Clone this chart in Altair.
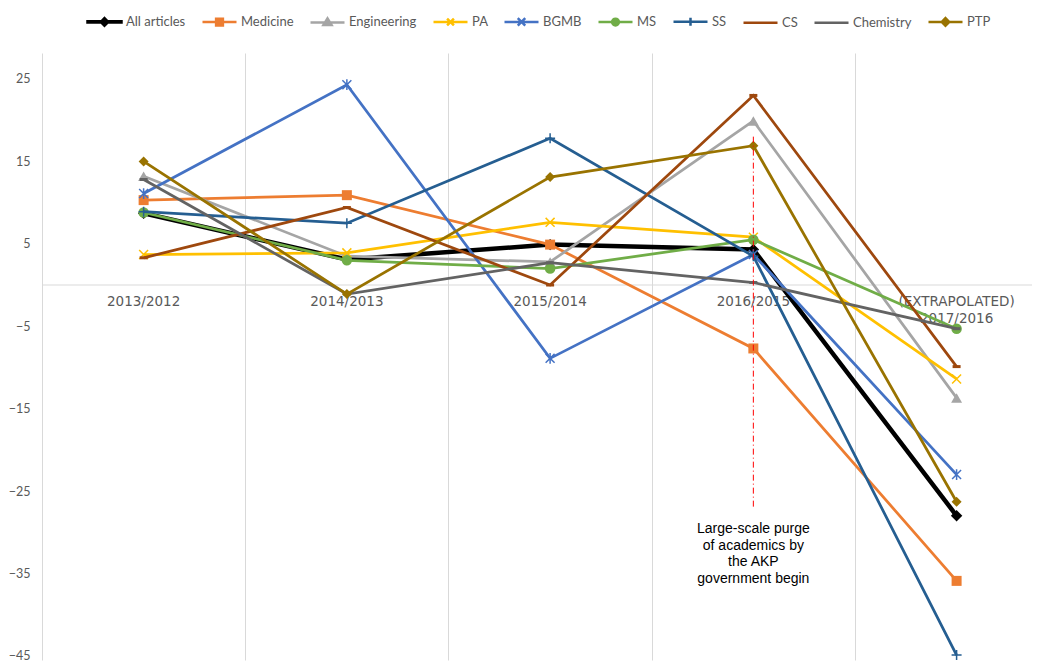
import altair as alt
import pandas as pd

# ---------------- data ----------------
categories = ["2013/2012", "2014/2013", "2015/2014", "2016/2015", "(EXTRAPOLATED)\n2017/2016"]
series_names = ["All articles", "Medicine", "Engineering", "PA", "BGMB",
                "MS", "SS", "CS", "Chemistry", "PTP"]
series_colors = ["#000000", "#ED7D31", "#A5A5A5", "#FFC000", "#4472C4",
                 "#70AD47", "#255E91", "#9E480E", "#636363", "#997300"]

all_articles = [8.7, 3.1, 4.9, 4.3, -28.0]
medicine = [10.3, 10.9, 4.9, -7.7, -35.9]
engineering = [13.2, 3.5, 2.8, 19.9, -13.7]
pa = [3.7, 3.9, 7.6, 5.8, -11.4]
bgmb = [11.1, 24.3, -8.9, 3.7, -23.0]
ms = [8.8, 3.0, 2.0, 5.5, -5.3]
ss = [8.9, 7.5, 17.8, 3.5, -44.9]
cs = [3.3, 9.4, 0.0, 23.0, -9.9]
chemistry = [12.8, -1.1, 2.7, 0.3, -5.3]
ptp = [15.0, -1.1, 13.1, 16.9, -26.3]

series_values = [all_articles, medicine, engineering, pa, bgmb,
                 ms, ss, cs, chemistry, ptp]

y_ticks = [-45, -35, -25, -15, -5, 5, 15, 25]

annotation_text = "Large-scale purge\nof academics by\nthe AKP\ngovernment begin"
annotation_category = 3
annotation_top = 18.0
annotation_bottom = -27.0
annotation_text_y = -29.6

# ---------------- tables ----------------
rows = []
for name, vals in zip(series_names, series_values):
    for i, v in enumerate(vals):
        rows.append({"series": name, "idx": i, "value": v})
df = pd.DataFrame(rows)

cat_df = pd.DataFrame({"idx": list(range(len(categories))),
                       "label": categories,
                       "value": [0] * len(categories)})
zero_df = pd.DataFrame({"value": [0]})
ann_df = pd.DataFrame({"idx": [annotation_category], "value": [annotation_top],
                       "bottom": [annotation_bottom], "ty": [annotation_text_y],
                       "text": [annotation_text]})

# ---------------- styles ----------------
marker_style = {
    "All articles": dict(shape="diamond", size=130, filled=True, strokeWidth=1),
    "Medicine": dict(shape="square", size=100, filled=True),
    "Engineering": dict(shape="triangle-up", size=120, filled=True),
    "PA": dict(shape="M-1,-1L1,1M-1,1L1,-1", size=80, filled=False, strokeWidth=1.5),
    "BGMB": dict(shape="M-1,-1L1,1M-1,1L1,-1M0,-1.2L0,1.2", size=80, filled=False, strokeWidth=1.5),
    "MS": dict(shape="circle", size=110, filled=True),
    "SS": dict(shape="M-1,0L1,0M0,-1L0,1", size=100, filled=False, strokeWidth=1.5),
    "CS": dict(shape="M-1,0L1,0", size=64, filled=False, strokeWidth=3),
    "Chemistry": dict(shape="M-1,0L1,0", size=64, filled=False, strokeWidth=3),
    "PTP": dict(shape="diamond", size=100, filled=True),
}
line_width = {"All articles": 4.5}

legend_paths = [
    "M-1,-0.04L1,-0.04L1,0.04L-1,0.04ZM0,-0.22L0.22,0L0,0.22L-0.22,0Z",
    "M-1,0L1,0M-0.2,-0.2L0.2,-0.2L0.2,0.2L-0.2,0.2Z",
    "M-1,0L1,0M0,-0.24L0.24,0.16L-0.24,0.16Z",
    "M-1,0L1,0M-0.2,-0.2L0.2,0.2M-0.2,0.2L0.2,-0.2",
    "M-1,0L1,0M-0.22,-0.22L0.22,0.22M-0.22,0.22L0.22,-0.22",
    "M-1,0L1,0M-0.2,0A0.2,0.2,0,1,0,0.2,0A0.2,0.2,0,1,0,-0.2,0Z",
    "M-1,0L1,0M0,-0.24L0,0.24",
    "M-1,0L1,0",
    "M-1,0L1,0",
    "M-1,0L1,0M0,-0.22L0.22,0L0,0.22L-0.22,0Z",
]

W, H = 990, 607
xscale = alt.Scale(domain=[-0.5, 4.371], nice=False, zero=False)
yscale = alt.Scale(domain=[-45.5, 28.15], nice=False, zero=False)

x_axis = alt.Axis(values=[0.5, 1.5, 2.5, 3.5], labels=False, ticks=False, domain=False,
                  grid=True, gridColor="#d9d9d9", gridWidth=1, title=None)
y_axis = alt.Axis(values=y_ticks, grid=False, ticks=False, domain=True,
                  domainColor="#d9d9d9", domainWidth=1, labelFont="Lato",
                  labelFontSize=12.5, labelColor="#595959", labelPadding=12, title=None)

X = alt.X("idx:Q", scale=xscale, axis=x_axis)
Y = alt.Y("value:Q", scale=yscale, axis=y_axis)

layers = []

# x category labels at the zero line
layers.append(
    alt.Chart(cat_df).mark_text(font="DejaVu Sans", fontSize=13.5, color="#595959",
                                baseline="top", align="center", dy=10,
                                lineBreak="\n", lineHeight=17)
    .encode(x=X, y=Y, text="label:N")
)

# zero line
layers.append(
    alt.Chart(zero_df).mark_rule(color="#d9d9d9", strokeWidth=1).encode(y=Y)
)

# series
for name, col in zip(series_names, series_colors):
    sub = alt.Chart(df).transform_filter(alt.datum.series == name)
    layers.append(sub.mark_line(color=col, strokeWidth=line_width.get(name, 2.75))
                  .encode(x=X, y=Y, order="idx:Q"))
    layers.append(sub.mark_point(color=col, opacity=1, **marker_style[name])
                  .encode(x=X, y=Y))

# annotation
layers.append(
    alt.Chart(ann_df).mark_rule(color="#ff0000", strokeWidth=1, strokeDash=[6, 3, 1, 3])
    .encode(x=X, y=Y, y2="bottom:Q")
)
layers.append(
    alt.Chart(ann_df).mark_text(font="Liberation Sans", fontSize=14, color="#000000",
                                baseline="middle", align="center",
                                lineBreak="\n", lineHeight=16.7)
    .encode(x=X, y=alt.Y("ty:Q", scale=yscale, axis=y_axis), text="text:N")
)

# legend layer (no marks drawn)
leg = dict(title=None, orient="none", legendX=44, legendY=-50, direction="horizontal",
           symbolSize=1156, symbolStrokeWidth=2.5, symbolOpacity=1, labelOffset=3,
           columnPadding=11, padding=0, labelFont="Lato", labelFontSize=13,
           labelColor="#595959")
layers.append(
    alt.Chart(df).transform_filter("false")
    .mark_point(filled=True, opacity=1, strokeWidth=2.5)
    .encode(x=X, y=Y,
            fill=alt.Fill("series:N", scale=alt.Scale(domain=series_names, range=series_colors),
                          legend=alt.Legend(**leg)),
            stroke=alt.Stroke("series:N", scale=alt.Scale(domain=series_names, range=series_colors),
                              legend=alt.Legend(**leg)),
            shape=alt.Shape("series:N", scale=alt.Scale(domain=series_names, range=legend_paths),
                            legend=alt.Legend(**leg)))
)

chart = alt.layer(*layers).properties(
    width=W, height=H,
    autosize=alt.AutoSizeParams(type="none"),
    padding={"left": 34, "top": 45, "right": 0, "bottom": 4},
    background="white",
).configure_view(stroke=None)

chart.save("out.html", embed_options={"renderer": "svg", "actions": False})
